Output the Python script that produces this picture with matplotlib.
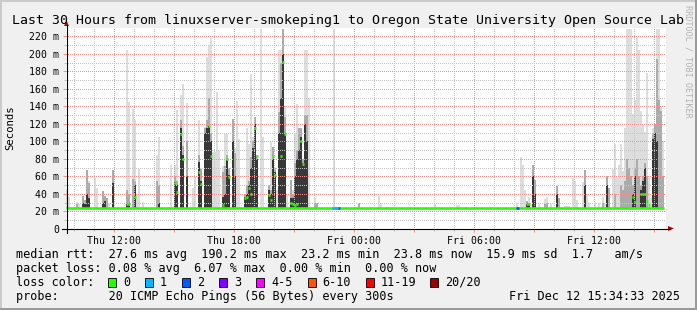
import matplotlib
matplotlib.use('Agg')
import matplotlib.pyplot as plt
from matplotlib.lines import Line2D
from matplotlib.patches import Rectangle, Polygon

# smoke columns: hour since graph start, top of light / mid / dark smoke (ms)
col_hour = [0.0, 0.1, 0.5, 0.6, 0.8, 0.9, 1.0, 1.1, 1.4, 1.5, 1.8, 1.9, 2.0, 2.1, 2.3,
            3.0, 3.1, 3.3, 3.4, 3.5, 3.6, 3.8, 4.5, 4.6, 5.2, 5.4, 5.5, 5.7, 5.8, 6.0,
            6.3, 6.4, 6.6, 6.7, 6.9, 7.0, 7.1, 7.2, 7.3, 7.4, 7.5, 7.6, 7.8, 7.9, 8.0,
            8.1, 8.3, 8.4, 8.5, 8.6, 8.9, 9.0, 9.1, 9.2, 9.3, 9.4, 9.5, 9.7, 9.8, 10.1,
            10.2, 10.3, 10.4, 10.5, 10.6, 10.7, 10.8, 10.9, 11.0, 11.2, 11.3, 11.4, 11.5, 11.6, 11.7,
            11.8, 11.9, 12.0, 12.1, 12.4, 12.5, 13.35, 14.6, 15.6, 15.7, 16.0, 16.1, 18.4, 19.5, 19.6,
            20.0, 22.5, 22.7, 22.8, 22.9, 23.0, 23.1, 23.3, 23.4, 23.6, 23.9, 24.0, 24.2, 24.5, 24.6,
            24.9, 25.0, 25.1, 25.3, 25.4, 25.5, 25.8, 25.9, 26.0, 26.1, 26.4, 26.6, 26.8, 26.9, 27.0,
            27.1, 27.3, 27.4, 27.5, 27.6, 27.7, 27.8, 27.9, 28.0, 28.1, 28.2, 28.3, 28.4, 28.5, 28.6,
            28.7, 28.8, 28.9, 29.0, 29.1, 29.2, 29.3, 29.4, 29.5, 29.6, 29.7, 29.8]
col_light = [44, 37, 31, 29, 38, 33, 67, 55, 58, 47, 43, 38, 35, 30, 67,
             204, 145, 137, 125, 40, 68, 31, 84, 105, 73, 73, 136, 153, 166, 144,
             47, 59, 125, 69, 117, 197, 210, 218, 88, 88, 157, 90, 72, 108, 108,
             70, 126, 92, 146, 103, 40, 115, 97, 177, 105, 128, 84, 229, 105, 50,
             99, 94, 70, 44, 204, 204, 229, 140, 40, 56, 45, 110, 143, 115, 115,
             80, 204, 204, 150, 35, 30, 229, 30, 38, 30, 25, 25, 28, 27, 27,
             25, 30, 82, 73, 45, 32, 37, 73, 56, 30, 34, 37, 28, 49, 35,
             26, 26, 26, 58, 55, 33, 54, 67, 40, 30, 30, 30, 37, 28, 61,
             47, 69, 97, 59, 73, 97, 66, 115, 229, 229, 229, 131, 147, 218, 205,
             135, 119, 111, 178, 58, 35, 115, 120, 229, 229, 140, 100]
col_mid = [0, 0, 28, 0, 38, 33, 67, 52, 0, 0, 43, 38, 35, 0, 67,
           45, 40, 57, 55, 0, 0, 0, 55, 50, 0, 60, 55, 125, 95, 100,
           0, 0, 85, 69, 115, 125, 150, 110, 0, 0, 0, 0, 65, 72, 85,
           70, 126, 87, 0, 0, 40, 50, 55, 82, 100, 128, 84, 0, 0, 50,
           45, 94, 70, 0, 134, 190, 229, 128, 0, 56, 40, 75, 90, 115, 115,
           80, 130, 130, 0, 30, 30, 0, 30, 0, 0, 0, 0, 0, 0, 0,
           0, 0, 0, 0, 0, 32, 30, 73, 56, 0, 28, 30, 0, 49, 35,
           0, 0, 0, 0, 0, 0, 0, 67, 0, 0, 0, 0, 30, 0, 61,
           47, 0, 40, 0, 0, 50, 45, 55, 80, 70, 60, 50, 70, 80, 60,
           50, 60, 75, 60, 0, 0, 110, 120, 194, 147, 135, 60]
col_dark = [0, 0, 0, 0, 30, 28, 40, 35, 0, 0, 30, 32, 0, 0, 52,
            30, 30, 0, 50, 0, 0, 0, 0, 30, 0, 54, 50, 115, 84, 60,
            0, 0, 77, 55, 110, 115, 118, 100, 0, 0, 0, 0, 36, 40, 80,
            62, 100, 60, 0, 0, 37, 40, 50, 70, 92, 120, 80, 0, 0, 45,
            40, 80, 65, 0, 110, 150, 200, 110, 0, 35, 35, 60, 80, 90, 105,
            75, 120, 100, 0, 0, 0, 0, 0, 0, 0, 0, 0, 0, 0, 0,
            0, 0, 0, 0, 0, 30, 28, 60, 40, 0, 0, 0, 0, 40, 0,
            0, 0, 0, 0, 0, 0, 0, 50, 0, 0, 0, 0, 0, 0, 50,
            0, 0, 0, 0, 0, 0, 0, 0, 0, 0, 0, 40, 60, 0, 0,
            45, 55, 70, 0, 0, 0, 103, 110, 100, 0, 0, 0]

# elevated median pings (green marks)
med_hour = [3.0, 3.1, 3.4, 5.4, 5.5, 5.7, 5.8, 6.6, 6.7, 7.1, 7.2, 7.8, 8.0, 8.1, 8.9,
            9.0, 9.1, 9.2, 9.4, 9.5, 10.1, 10.2, 10.3, 10.4, 10.7, 10.8, 10.9, 11.2, 11.3, 11.4,
            11.5, 11.7, 11.8, 23.0, 23.1, 28.3, 28.4, 28.7, 28.8, 28.9, 29.0, 29.1]
med_ms = [29, 28, 37, 52, 42, 109, 80, 65, 51, 118, 83, 27, 80, 59, 35,
          36, 47, 40, 115, 83, 39, 33, 83, 62, 83, 191, 108, 30, 28, 27,
          28, 101, 74, 28, 28, 37, 31, 40, 40, 40, 32, 27]
base_ms = 23.5
data_end = 29.9

# packet loss segments on the median line
loss_start = [13.3, 13.6, 22.5]
loss_end = [13.6, 13.7, 22.65]
loss_seg_color = ['#00b8ff', '#0059ff', '#0059ff']

# time axis (hours since graph start, Thu 09:34:33)
major_x = [2.4242 + 3 * k for k in range(10)]
minor_x = [0.4242 + k for k in range(30)]
x_labels = ['Thu 12:00', '', 'Thu 18:00', '', 'Fri 00:00', '', 'Fri 06:00', '', 'Fri 12:00', '']
y_major = list(range(0, 221, 20))
y_minor = list(range(10, 230, 20))
y_labels = ['0'] + ['%d m' % v for v in y_major[1:]]

loss_names = ['0', '1', '2', '3', '4-5', '6-10', '11-19', '20/20']
loss_colors = ['#26ff00', '#00b8ff', '#0059ff', '#7e00ff', '#ff00ff', '#ff5500', '#ff0000', '#a10000']

W, H = 697, 310
MONO = 'DejaVu Sans Mono'
GREEN = '#26ff00'
DOTS = (0.5, (1, 1))  # 1px on / 1px off, aligned to the pixel grid


def fx(x):
    return x / W


def fy(y):
    return 1 - y / H


fig = plt.figure(figsize=(W / 100, H / 100), dpi=100, facecolor='#f0f0f0')

# outer shading border
fig.add_artist(Rectangle((0, fy(2)), 1, 2 / H, transform=fig.transFigure, color='#cbcbcb', lw=0))
fig.add_artist(Rectangle((0, 0), 2 / W, 1, transform=fig.transFigure, color='#cbcbcb', lw=0))
fig.add_artist(Rectangle((0, 0), 1, 2 / H, transform=fig.transFigure, color='#9a9a9a', lw=0))
fig.add_artist(Rectangle((fx(695), 0), 2 / W, 1, transform=fig.transFigure, color='#9a9a9a', lw=0))

# plot area on whole pixels so the dotted grid stays crisp
ax = fig.add_axes([fx(66), fy(229), 600 / W, 201 / H])
ax.set_facecolor('white')
ax.set_xlim(0, 30)
ax.set_ylim(0, 229.7)
for s in ax.spines.values():
    s.set_visible(False)

# smoke: light shade under the grid, darker shades over it
lh = [h for h, v in zip(col_hour, col_light) if v > 0]
lv = [v - 22.5 for v in col_light if v > 0]
ax.bar(lh, lv, width=0.1, bottom=22.5, align='edge', color='#dddddd', lw=0, zorder=1)
mh = [h for h, v in zip(col_hour, col_mid) if v > 0]
mv = [v - 22.5 for v in col_mid if v > 0]
ax.bar(mh, mv, width=0.1, bottom=22.5, align='edge', color='#ababab', lw=0, zorder=2)
dh = [h for h, v in zip(col_hour, col_dark) if v > 0]
dv = [v - 22.5 for v in col_dark if v > 0]
ax.bar(dh, dv, width=0.1, bottom=22.5, align='edge', color='#383838', lw=0, zorder=2.1)

# grid
ax.set_xticks(major_x)
ax.set_xticklabels(x_labels)
ax.set_xticks(minor_x, minor=True)
ax.set_yticks(y_major)
ax.set_yticklabels(y_labels)
ax.set_yticks(y_minor, minor=True)
ax.grid(which='minor', color='#c4c4c4', lw=0.72, ls=DOTS, zorder=1.5)
ax.grid(which='major', color='#f29090', lw=0.72, ls=DOTS, zorder=1.6)
ax.set_axisbelow(False)
ax.tick_params(which='major', length=2.2, width=0.72, color='#f29090', direction='out',
               labelsize=7.1, pad=2.6)
ax.tick_params(which='minor', length=1.5, width=0.72, color='#c4c4c4', direction='out')
for lab in ax.get_xticklabels() + ax.get_yticklabels():
    lab.set_family(MONO)
    lab.set_color('#000000')

# median line
ax.hlines(base_ms, 0, data_end, colors=GREEN, lw=1.9, zorder=3)
ax.hlines(med_ms, med_hour, [h + 0.1 for h in med_hour], colors=GREEN, lw=1.9, zorder=3)
ax.hlines([base_ms] * len(loss_start), loss_start, loss_end, colors=loss_seg_color, lw=1.9, zorder=3.1)

# axes lines with arrows
fig.add_artist(Line2D([fx(62), fx(670)], [fy(228.5), fy(228.5)], transform=fig.transFigure,
                      color='black', lw=0.8))
fig.add_artist(Line2D([fx(66.5), fx(66.5)], [fy(233), fy(25)], transform=fig.transFigure,
                      color='black', lw=0.8))
fig.add_artist(Polygon([[fx(668), fy(226)], [fx(674), fy(228.5)], [fx(668), fy(231)]],
                       closed=True, transform=fig.transFigure, color='#9a1010', lw=0))
fig.add_artist(Polygon([[fx(64), fy(26)], [fx(66.5), fy(20.5)], [fx(69), fy(26)]],
                       closed=True, transform=fig.transFigure, color='#9a1010', lw=0))

# texts
fig.text(fx(12), fy(24), 'Last 30 Hours from linuxserver-smokeping1 to Oregon State University Open Source Lab',
         family=MONO, fontsize=9.5, va='baseline', ha='left')
fig.text(fx(10), fy(128), 'Seconds', family=MONO, fontsize=7.7, rotation=90, va='center', ha='center')
fig.text(fx(688), fy(5), 'RRDTOOL / TOBI OETIKER', family=MONO, fontsize=6.1, rotation=270,
         va='top', ha='center', color='#b4b4b4')

LS = 8.43
fig.text(fx(16), fy(254.3),
         'median rtt:  27.6 ms avg  190.2 ms max  23.2 ms min  23.8 ms now  15.9 ms sd  1.7   am/s',
         family=MONO, fontsize=LS, va='center', ha='left')
fig.text(fx(16), fy(268.3), 'packet loss: 0.08 % avg  6.07 % max  0.00 % min  0.00 % now',
         family=MONO, fontsize=LS, va='center', ha='left')
fig.text(fx(16), fy(282.3), 'loss color:', family=MONO, fontsize=LS, va='center', ha='left')
box_x = [108, 145, 182, 219, 256, 307.6, 365.8, 430]
for bx, name, c in zip(box_x, loss_names, loss_colors):
    fig.add_artist(Rectangle((fx(bx), fy(286.5)), 8 / W, 8.5 / H, transform=fig.transFigure,
                             facecolor=c, edgecolor='black', lw=0.6))
    fig.text(fx(bx + 15), fy(282.3), name, family=MONO, fontsize=LS, va='center', ha='left')
fig.text(fx(16), fy(296.3), 'probe:       20 ICMP Echo Pings (56 Bytes) every 300s',
         family=MONO, fontsize=LS, va='center', ha='left')
fig.text(fx(680), fy(296.3), 'Fri Dec 12 15:34:33 2025', family=MONO, fontsize=LS, va='center', ha='right')

fig.savefig('out.png', dpi=100, facecolor=fig.get_facecolor())
